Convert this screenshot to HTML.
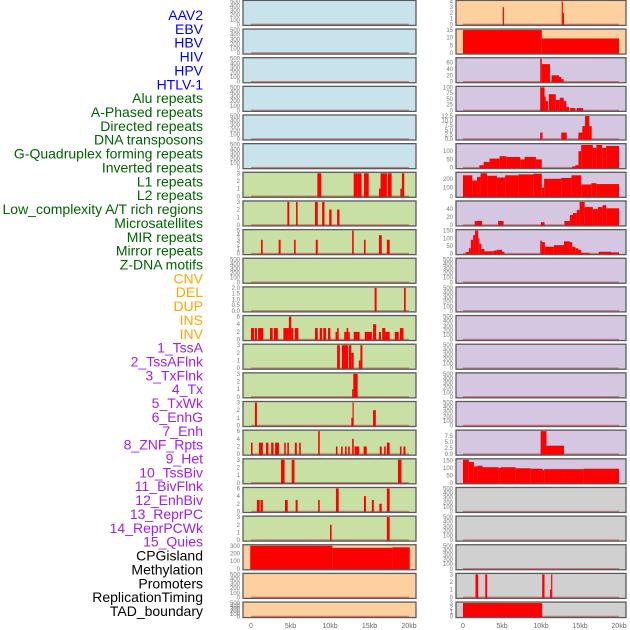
<!DOCTYPE html>
<html><head><meta charset="utf-8"><style>
html,body{margin:0;padding:0;background:#fff;width:630px;height:630px;overflow:hidden}
svg{display:block;font-family:"Liberation Sans",sans-serif}
</style></head><body>
<svg id="chart" width="630" height="630" viewBox="0 0 630 630"></svg>
<script>
const trackLabels=["AAV2","EBV","HBV","HIV","HPV","HTLV-1","Alu repeats","A-Phased repeats","Directed repeats","DNA transposons","G-Quadruplex forming repeats","Inverted repeats","L1 repeats","L2 repeats","Low_complexity A/T rich regions","Microsatellites","MIR repeats","Mirror repeats","Z-DNA motifs","CNV","DEL","DUP","INS","INV","1_TssA","2_TssAFlnk","3_TxFlnk","4_Tx","5_TxWk","6_EnhG","7_Enh","8_ZNF_Rpts","9_Het","10_TssBiv","11_BivFlnk","12_EnhBiv","13_ReprPC","14_ReprPCWk","15_Quies","CPGisland","Methylation","Promoters","ReplicationTiming","TAD_boundary"];
const labelGroups=[6,13,5,15,5];
const groupColors=["#0000ff","#006400","#ffa500","#a020f0","#000000"];

const xTickVals=[0,5,10,15,20];
const xTickLabels=["0","5kb","10kb","15kb","20kb"];

const T500=[0,100,200,300,400,500], T3=[0,1,2,3];
const leftYMax=[500,500,500,500,500,500,3,3,5,500,2,6,3,3,3,6,3,6,3,300,500,500];
const leftTicks=[T500,T500,T500,T500,T500,T500,T3,T3,[0,1,2,3,4,5],T500,[0,0.5,1,1.5,2],[0,2,4,6],T3,T3,T3,[0,2,4,6],T3,[0,2,4,6],T3,[0,100,200,300],T500,T500];
const leftBg=["b","b","b","b","b","b","g","g","g","g","g","g","g","g","g","g","g","g","g","o","o","o"];
const leftSegs=[[],[],[],[],[],[],
[[8.4,8.9,3],[13.0,13.5,3],[13.5,14.0,3],[14.3,14.9,3],[16.2,16.4,1],[16.4,17.2,3],[17.3,17.8,3],[18.9,19.1,1],[19.1,19.4,3]],
[[4.6,4.85,3],[5.7,5.9,3],[8.1,8.45,3],[9.0,9.3,3],[9.9,10.2,2],[10.9,11.2,2]],
[[1.27,1.48,3],[3.5,3.75,3],[5.45,5.65,3],[8.2,8.45,3],[12.8,13.0,5],[14.3,14.5,3],[16.2,16.55,4],[17.2,17.55,3]],
[],
[[15.65,15.9,2],[19.37,19.58,2]],
[[0,0.4,3],[0.5,0.75,3],[0.9,1.55,3],[2.4,2.75,3],[2.9,3.4,3],[4.1,4.8,3],[4.8,5.1,6],[5.1,5.35,3],[5.55,6.0,3],[8.1,8.45,3],[8.7,9.0,3],[9.15,9.5,3],[9.75,10.05,3],[10.7,10.9,2],[10.9,11.1,3],[11.8,12.1,2],[12.1,12.3,3],[12.3,12.5,2],[13.0,13.75,2],[14.4,15.3,2],[15.45,15.85,4],[16.2,16.45,2],[16.6,17.0,3],[17.0,17.55,2],[18.2,18.7,2],[18.85,19.3,3]],
[[10.9,11.25,3],[11.5,12.3,3],[12.4,12.7,3],[12.7,13.0,2],[13.65,13.85,1],[13.85,14.1,3]],
[[12.8,12.95,1],[12.95,13.5,3]],
[[0.5,0.75,3],[12.7,12.85,1],[12.85,13.0,3],[15.45,15.8,2]],
[[0,0.2,3],[1.0,1.5,3],[1.9,2.2,3],[2.55,2.85,3],[3.05,3.55,3],[4.2,4.4,3],[4.6,4.8,3],[5.55,5.8,3],[6.1,6.3,3],[8.5,8.7,6],[10.75,10.95,2],[11.4,11.6,2],[11.9,12.1,2],[12.3,12.5,2],[12.8,13.0,4],[13.1,13.7,2],[14.25,14.65,2],[16.3,16.55,2],[16.85,17.05,2],[17.2,17.55,3],[18.85,19.05,2],[19.3,19.55,2]],
[[3.8,4.25,3],[5.15,5.5,3],[18.6,19.05,3]],
[[0.75,1.1,3],[1.2,1.5,3],[4.3,4.65,3],[5.65,5.9,3],[8.5,8.7,3],[10.75,11.1,6],[14.3,14.55,4],[15.3,15.55,3],[16.25,16.55,2],[17.2,17.55,6]],
[[10.0,10.2,2],[17.2,17.55,3]],
[[-0.1,10.3,300],[10.3,17.9,272],[17.9,20.1,280]],
[],[]];

const rightYMax=[4,15,72,100,12.5,140,263,58,150,500,500,500,500,500,500,9.5,155,500,500,500,3,3];
const rightTicks=[[0,1,2,3,4],[0,5,10,15],[0,20,40,60],[0,25,50,75,100],[0,2.5,5,7.5,10,12.5],[0,50,100],[0,100,200],[0,20,40],[0,50,100,150],T500,T500,T500,T500,T500,T500,[0,2.5,5,7.5],[0,50,100,150],T500,T500,T500,T3,T3];
const rightBg=["o","o","p","p","p","p","p","p","p","p","p","p","p","p","p","p","p","y","y","y","y","y"];
const rightSegs=[
[[5.1,5.25,3],[12.65,12.8,4],[12.8,12.95,2]],
[[0,10.1,15],[10.1,20,9.5]],
[[9.9,10.1,72],[10.1,11.15,55],[11.35,12.3,20],[12.3,12.6,15],[12.6,12.9,8]],
[[9.9,10.45,100],[10.45,10.6,60],[10.6,10.9,40],[11.0,11.9,70],[11.9,12.4,45],[12.4,12.9,55],[12.9,13.25,40],[13.25,13.6,15],[13.75,14.4,10],[14.6,15.4,10]],
[[9.9,10.2,3.5],[12.6,13.3,3.5],[14.8,15.3,3.5],[15.3,15.65,7],[15.65,16.2,12.5],[16.2,16.5,7]],
[[2.1,2.65,15],[2.65,3.4,35],[3.4,4.7,55],[4.7,5.55,70],[5.55,7.35,65],[7.35,7.9,50],[7.9,9.35,65],[9.35,10.1,50],[14.0,14.4,8],[14.4,14.8,15],[14.8,15.15,100],[15.15,16.65,138],[16.65,17.1,120],[17.1,17.85,138],[17.85,18.35,120],[18.35,20,132]],
[[0,1.2,240],[1.2,1.8,180],[1.8,2.25,220],[2.25,3.1,263],[3.1,4.35,235],[4.35,5.4,215],[5.4,7.1,240],[7.1,9.0,250],[9.0,10.1,258],[10.1,10.4,100],[10.4,11.15,200],[11.15,12.6,200],[12.6,13.9,210],[13.9,15.15,240],[15.15,16.45,135],[16.45,17.1,150],[17.1,20,140]],
[[1.5,2.45,10],[4.5,5.2,10],[10.0,10.45,7],[13.0,13.7,10],[13.7,14.1,25],[14.1,14.6,30],[14.6,14.95,38],[14.95,15.6,58],[15.6,16.65,45],[16.65,17.3,40],[17.3,17.9,45],[17.9,18.35,50],[18.35,20,42]],
[[0.35,0.75,10],[0.75,1.0,35],[1.0,1.3,90],[1.3,1.55,120],[1.55,1.95,150],[1.95,2.1,100],[2.1,2.35,65],[2.35,2.75,30],[2.75,3.95,15],[3.95,4.35,20],[4.35,5.0,25],[5.0,5.3,12],[9.9,10.1,85],[10.1,10.5,75],[10.5,11.65,45],[11.65,12.95,55],[12.95,13.7,80],[13.7,14.0,75],[14.0,14.4,45],[14.4,14.75,35],[14.75,15.15,25],[15.15,15.6,5],[15.6,16.2,5],[17.4,19.0,12],[19.0,20,8]],
[],[],[],[],[],[],
[[9.95,10.7,9.5],[10.7,12.95,3.5]],
[[0,0.75,155],[0.75,1.4,140],[1.4,1.85,110],[1.85,2.5,115],[2.5,4.6,105],[4.6,4.8,100],[4.8,6.75,105],[6.75,8.7,98],[8.7,10.2,95],[10.2,10.4,85],[10.4,12.95,92],[12.95,15.5,92],[15.5,20,95]],
[],[],[],
[[1.6,1.95,3],[2.85,3.1,3],[10.15,10.45,3],[11.15,11.3,1],[11.3,11.45,3]],
[[0,10.15,3]]];

const bgColors={b:"#c9e3ec",g:"#c9e0a5",o:"#ffd09f",p:"#d5c6e2",y:"#d0d0d0"};
const NS="http://www.w3.org/2000/svg";
const svg=document.getElementById("chart");
function mk(tag,attrs,parent){const e=document.createElementNS(NS,tag);for(const k in attrs)e.setAttribute(k,attrs[k]);(parent||svg).appendChild(e);return e;}

let li=0;
labelGroups.forEach((n,g)=>{for(let k=0;k<n;k++){
  const t=mk("text",{x:203,y:15+li*13.86+5,"text-anchor":"end","font-size":"14",fill:groupColors[g]});
  t.textContent=trackLabels[li];
  
  
  li++;}});

const cols=[
 {name:"left",px0:243,px1:416,d0:251,d1:409,ymax:leftYMax,ticks:leftTicks,bg:leftBg,segs:leftSegs,tickX:240},
 {name:"right",px0:456,px1:626,d0:463,d1:619,ymax:rightYMax,ticks:rightTicks,bg:rightBg,segs:rightSegs,tickX:453}];

cols.forEach(c=>{
  const xs=v=>c.d0+(v/20)*(c.d1-c.d0);
  for(let i=0;i<22;i++){
    const top=0.4+28.65*i, h=(i===21?15.5:25), bot=top+h;
    const g=mk("g",{});
    
    
    mk("rect",{x:c.px0,y:top,width:c.px1-c.px0,height:h,fill:bgColors[c.bg[i]],stroke:"none"},g);
    const ymax=c.ymax[i];
    const ys=v=>(bot-1)-(v/ymax)*(h-2);
    c.ticks[i].forEach(tv=>{
      const t=mk("text",{x:c.tickX,y:ys(tv)+2,"text-anchor":"end","font-size":"6",fill:"#777"},g);
      t.textContent=String(tv%1===0&&c.ticks[i].some(v=>v%1!==0)?tv.toFixed(1):tv);
      
      
    });
    const bl=mk("line",{x1:xs(0),x2:xs(20),y1:bot-1,y2:bot-1,stroke:"#c04040","stroke-width":"1.5","stroke-opacity":"0.6"},g);
    
    
    c.segs[i].forEach(s=>{
      const x1=xs(s[0]),x2=xs(s[1]),y=ys(s[2]);
      const r=mk("rect",{x:x1,y:y,width:Math.max(1,x2-x1),height:bot-y,fill:"#ff0000"},g);
      
      
    });
    const br=mk("rect",{x:c.px0,y:top,width:c.px1-c.px0,height:h,fill:"none",stroke:"#5a5a5a","stroke-width":"1.3"},g);
    
    
  }
  xTickVals.forEach((v,k)=>{
    const t=mk("text",{x:xs(v),y:628,"text-anchor":"middle","font-size":"7",fill:"#666"});
    t.textContent=xTickLabels[k];
    
    
  });
});
</script>
</body></html>
